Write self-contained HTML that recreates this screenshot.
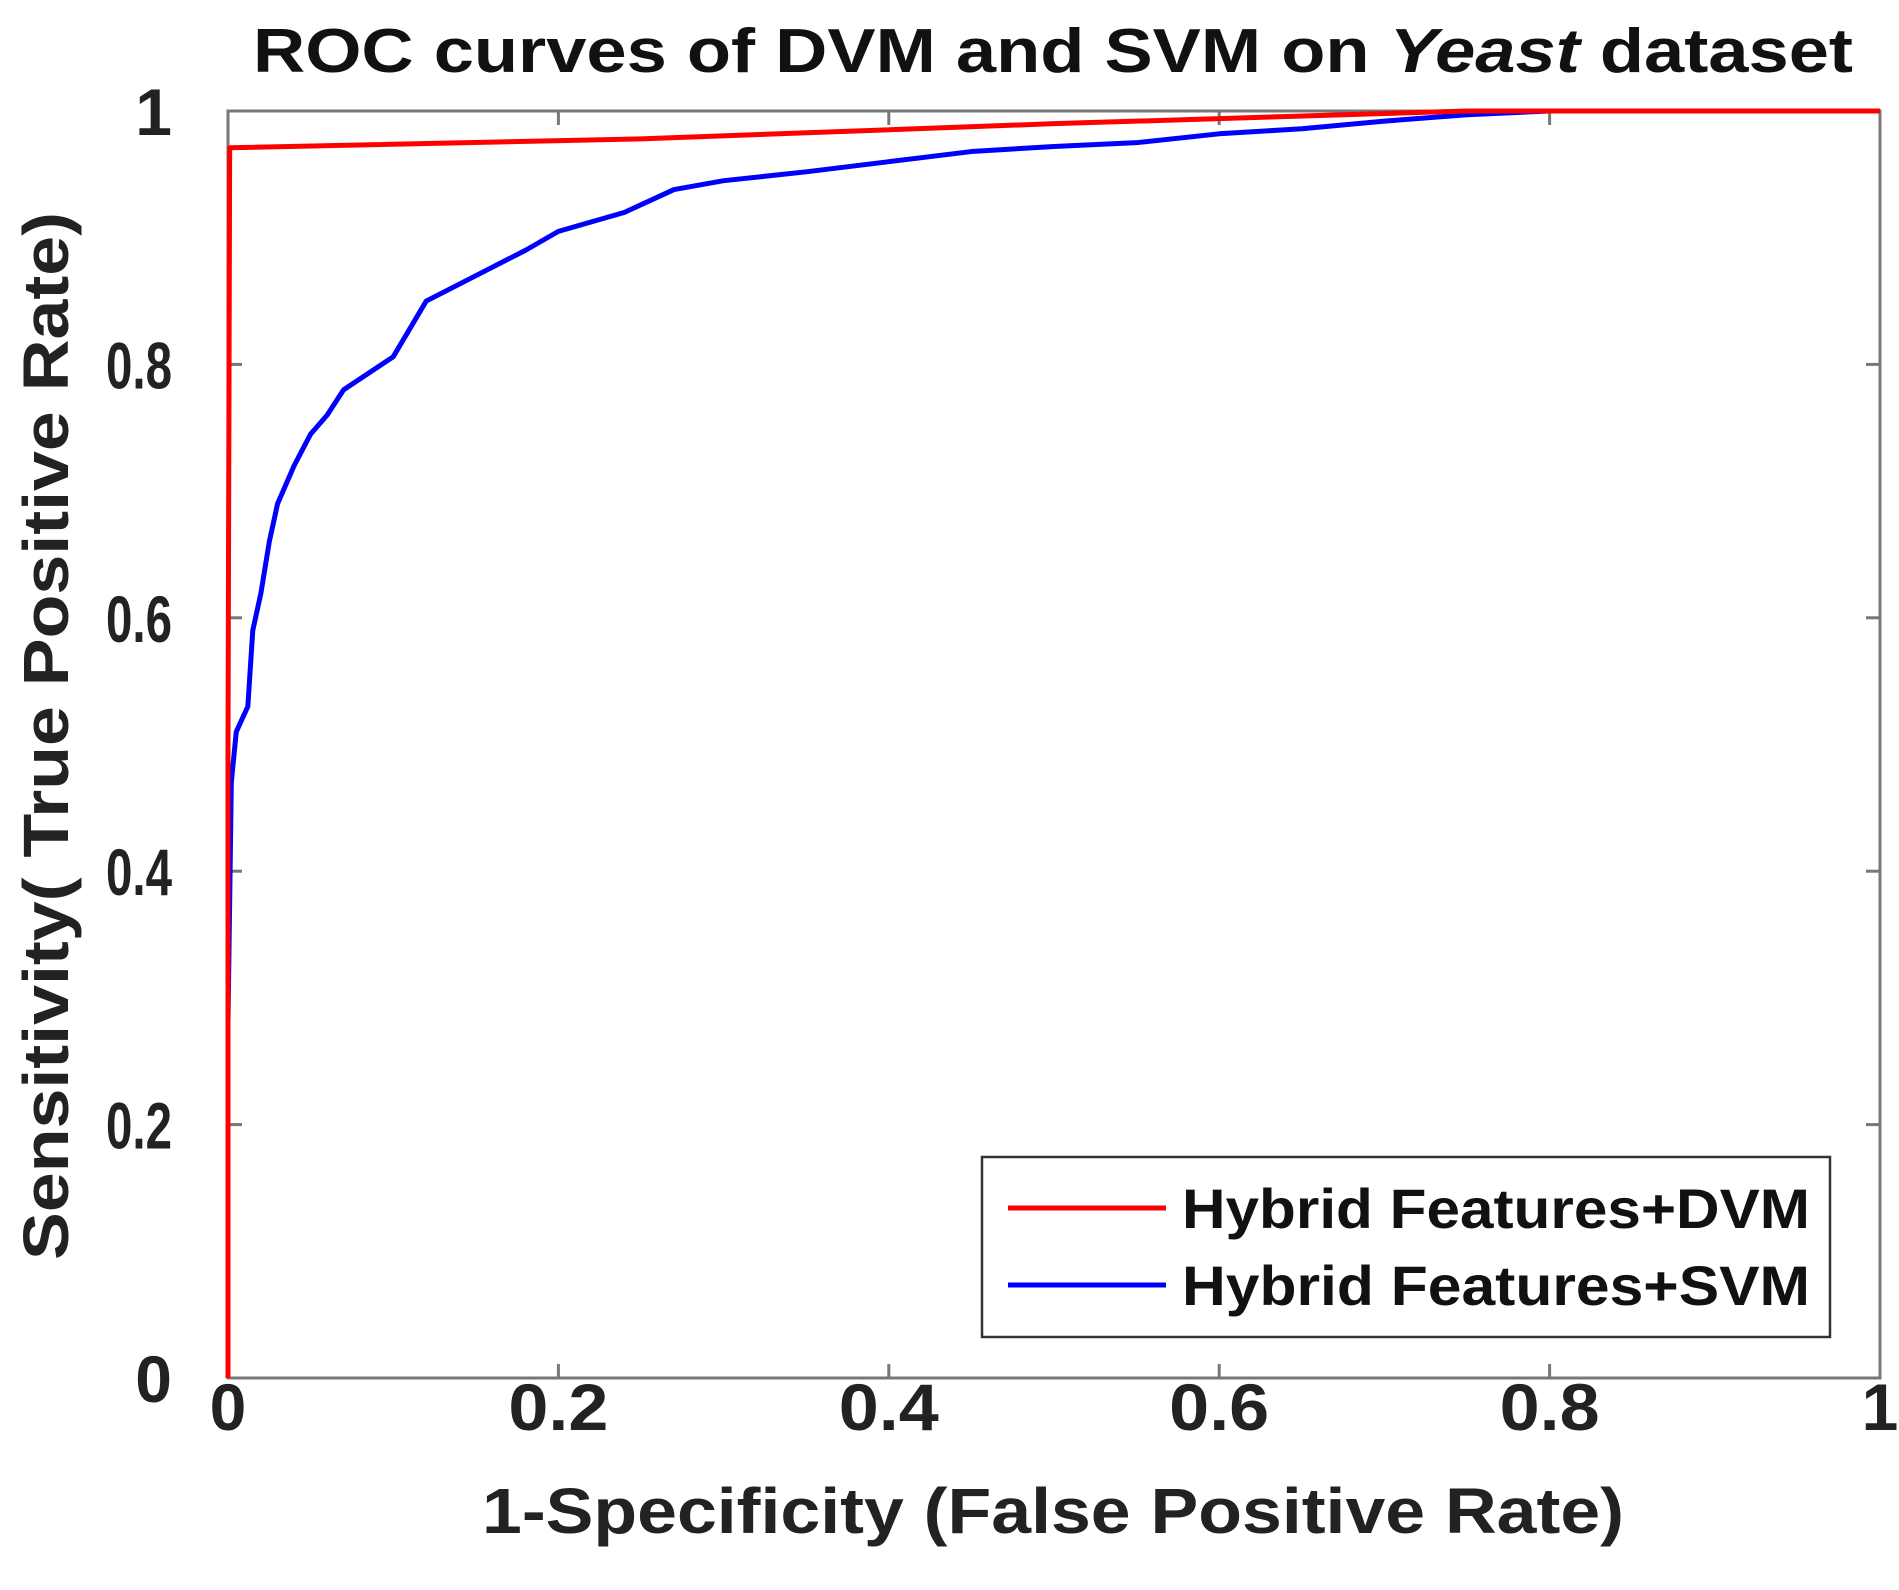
<!DOCTYPE html>
<html><head><meta charset="utf-8"><style>
html,body{margin:0;padding:0;background:#fff;}
svg{display:block;font-family:"Liberation Sans",Arial,sans-serif;font-weight:bold;}
</style></head><body>
<svg id="chart" width="1899" height="1590" viewBox="0 0 1899 1590" xmlns="http://www.w3.org/2000/svg">
<rect width="1899" height="1590" fill="#fff"/>
<text x="1053" y="72" text-anchor="middle" font-size="62" textLength="1600" lengthAdjust="spacingAndGlyphs" fill="#111">ROC curves of DVM and SVM on <tspan font-style="italic">Yeast</tspan> dataset</text>
<g id="axes"></g>
<g id="series"></g>
<text x="1053" y="1533" text-anchor="middle" font-size="64" textLength="1142" lengthAdjust="spacingAndGlyphs" fill="#222">1-Specificity (False Positive Rate)</text>
<text x="0" y="0" transform="translate(68,736) rotate(-90)" text-anchor="middle" font-size="64" textLength="1048" lengthAdjust="spacingAndGlyphs" fill="#222">Sensitivity( True Positive Rate)</text>
<g>
<rect x="982" y="1157" width="848" height="180" fill="#fff" stroke="#333" stroke-width="2.5"/>
<line x1="1008" y1="1208" x2="1166" y2="1208" stroke="#ff0000" stroke-width="5"/>
<text x="1182" y="1228" font-size="56" textLength="628" lengthAdjust="spacingAndGlyphs" fill="#111">Hybrid Features+DVM</text>
<line x1="1008" y1="1285" x2="1166" y2="1285" stroke="#0000ff" stroke-width="5"/>
<text x="1182" y="1305" font-size="56" textLength="628" lengthAdjust="spacingAndGlyphs" fill="#111">Hybrid Features+SVM</text>
</g>
</svg>
<script>
const xTicks = [0, 0.2, 0.4, 0.6, 0.8, 1];
const xTickLabels = ["0", "0.2", "0.4", "0.6", "0.8", "1"];
const yTicks = [0, 0.2, 0.4, 0.6, 0.8, 1];
const yTickLabels = ["0", "0.2", "0.4", "0.6", "0.8", "1"];
const dvmFpr = [0, 0, 0.001, 0.25, 0.5, 0.75, 1];
const dvmTpr = [0, 0.5, 0.971, 0.978, 0.99, 1, 1];
const svmFpr = [0, 0, 0.002, 0.005, 0.012, 0.015, 0.02, 0.025, 0.03, 0.04, 0.05, 0.06, 0.07, 0.1, 0.12, 0.15, 0.18, 0.2, 0.24, 0.27, 0.3, 0.35, 0.4, 0.45, 0.5, 0.55, 0.6, 0.65, 0.7, 0.75, 0.8, 1];
const svmTpr = [0, 0.28, 0.47, 0.51, 0.53, 0.59, 0.62, 0.66, 0.69, 0.72, 0.745, 0.76, 0.78, 0.806, 0.85, 0.87, 0.89, 0.905, 0.92, 0.938, 0.945, 0.952, 0.96, 0.968, 0.972, 0.975, 0.982, 0.986, 0.992, 0.997, 1, 1];
const L=228,R=1880,T=111,B=1378;
const sx=v=>L+v*(R-L), sy=v=>B-v*(B-T);
const NS="http://www.w3.org/2000/svg";
const axes=document.getElementById('axes'), series=document.getElementById('series');
function mk(tag,attrs,parent){const e=document.createElementNS(NS,tag);for(const k in attrs)e.setAttribute(k,attrs[k]);parent.appendChild(e);return e;}
const frame=mk('rect',{x:L,y:T,width:R-L,height:B-T,fill:'none',stroke:'#777','stroke-width':3},axes);


xTicks.forEach((v,i)=>{
  const t1=mk('line',{x1:sx(v),y1:B,x2:sx(v),y2:B-14,stroke:'#777','stroke-width':3},axes);
  
  
  const t2=mk('line',{x1:sx(v),y1:T,x2:sx(v),y2:T+14,stroke:'#777','stroke-width':3},axes);
  
  
  const a={x:sx(v),y:1430,'text-anchor':'middle','font-size':66,fill:'#222'};
  if(xTickLabels[i].length>1){a.textLength=100;a.lengthAdjust='spacingAndGlyphs';}
  const tx=mk('text',a,axes);
  tx.textContent=xTickLabels[i];
  
  
});
yTicks.forEach((v,i)=>{
  const t1=mk('line',{x1:L,y1:sy(v),x2:L+14,y2:sy(v),stroke:'#777','stroke-width':3},axes);
  
  
  const t2=mk('line',{x1:R,y1:sy(v),x2:R-14,y2:sy(v),stroke:'#777','stroke-width':3},axes);
  
  
  const a={x:172,y:sy(v)+24,'text-anchor':'end','font-size':66,fill:'#222'};
  if(yTickLabels[i].length>1){a.textLength=66;a.lengthAdjust='spacingAndGlyphs';}
  const tx=mk('text',a,axes);
  tx.textContent=yTickLabels[i];
  
  
});
function line(xs,ys,color,name){
  const p=mk('polyline',{points:xs.map((x,i)=>sx(x)+','+sy(ys[i])).join(' '),fill:'none',stroke:color,'stroke-width':5,'stroke-linejoin':'round'},series);
  
  
}
line(svmFpr,svmTpr,'#0000ff','svm-roc-line');
line(dvmFpr,dvmTpr,'#ff0000','dvm-roc-line');
</script>
</body></html>
